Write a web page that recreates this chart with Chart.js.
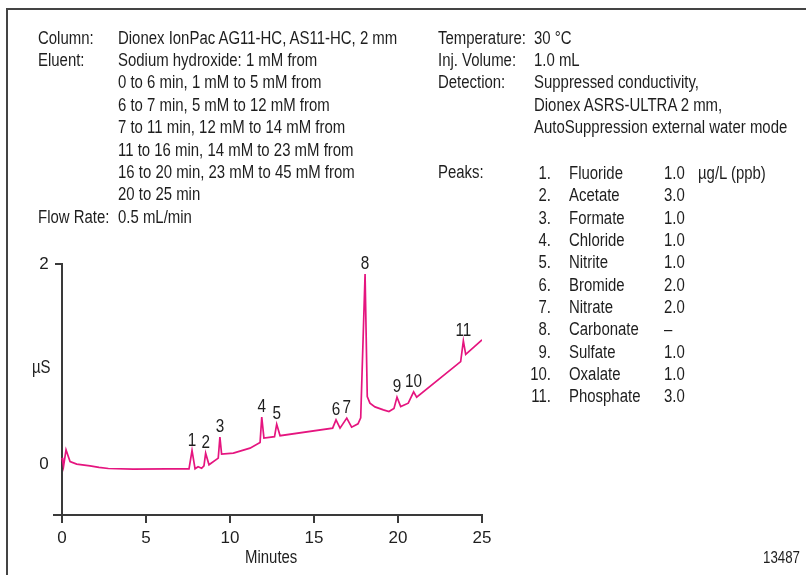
<!DOCTYPE html>
<html lang="en">
<head>
<meta charset="UTF-8">
<title>Anions chromatogram</title>
<script src="https://cdn.jsdelivr.net/npm/chart.js"></script>
<style>
    body {
        margin: 0;
        background: #fff;
        font-family: 'Liberation Sans', Arial, sans-serif;
        color: #1e1e1e;
    }
    #wrap { position: relative; width: 806px; height: 575px; overflow: hidden; }
    #frame {
        position: absolute; left: 6px; top: 8px; width: 900px; height: 700px;
        border-left: 2px solid #444; border-top: 2px solid #444;
    }
    #chartBox { position: absolute; left: 0; top: 0; width: 806px; height: 575px; }
    /* letra estrecha: Liberation Sans comprimida en horizontal */
    .txt {
        position: absolute; font-size: 18px; line-height: 22.35px; white-space: nowrap;
        transform: scaleX(0.83); transform-origin: 0 0;
    }
    .der { text-align: right; transform-origin: 100% 0; }
</style>
</head>
<body>
<div id="wrap">
    <div id="frame"></div>
    <div id="chartBox"><canvas id="grafica"></canvas></div>

    <!-- condiciones, bloque izquierdo -->
    <div class="txt" style="left:38px; top:26.8px;">Column:<br>Eluent:<br><br><br><br><br><br><br>Flow Rate:</div>
    <div class="txt" style="left:118px; top:26.8px;">Dionex IonPac AG11-HC, AS11-HC, 2 mm<br>Sodium hydroxide: 1 mM from<br>0 to 6 min, 1 mM to 5 mM from<br>6 to 7 min, 5 mM to 12 mM from<br>7 to 11 min, 12 mM to 14 mM from<br>11 to 16 min, 14 mM to 23 mM from<br>16 to 20 min, 23 mM to 45 mM from<br>20 to 25 min<br>0.5 mL/min</div>

    <!-- bloque derecho -->
    <div class="txt" style="left:438px; top:26.8px;">Temperature:<br>Inj. Volume:<br>Detection:<br><br><br><br>Peaks:</div>
    <div class="txt" style="left:534px; top:26.8px;">30 °C<br>1.0 mL<br>Suppressed conductivity,<br>Dionex ASRS-ULTRA 2 mm,<br>AutoSuppression external water mode</div>
    <div class="txt der" id="colNum" style="left:501px; width:50px; top:162px;"></div>
    <div class="txt" id="colName" style="left:569px; top:162px;"></div>
    <div class="txt" id="colConc" style="left:664px; top:162px;"></div>
    <div class="txt" style="left:698px; top:162px;">µg/L (ppb)</div>

    <div class="txt" style="left:32px; top:355.5px;">µS</div>
    <div class="txt" style="left:245px; top:545.8px;">Minutes</div>
    <div class="txt der" style="left:700px; width:100px; top:547px; font-size:16px;">13487</div>
</div>

<script>
    // trazado: tiempo (min) y señal (µS)
    const times  = [0.0, 0.04, 0.09, 0.24, 0.36, 0.48, 0.875, 1.67, 2.2, 2.76, 4.23, 6.25, 7.32, 7.56,
                    7.74, 7.92, 8.1, 8.31, 8.45, 8.55, 8.75, 9.3, 9.40, 9.5, 10.2, 11.19, 11.79,
                    11.89, 12.02, 12.65, 12.78, 12.98, 16.11, 16.31, 16.55, 16.95, 17.24, 17.62,
                    17.78, 18.04, 18.17, 18.33, 18.63, 19.13, 19.46, 19.76, 19.94, 20.16, 20.61,
                    20.93, 21.11, 23.73, 23.89, 24.03, 25.0];
    const signal = [0.07, 0.033, -0.017, 0.149, 0.09, 0.033, 0.007, -0.01, -0.026, -0.037, -0.043, -0.04, -0.04, -0.04,
                    0.142, -0.04, -0.02, -0.035, -0.01, 0.116, 0.0, 0.067, 0.276, 0.106, 0.116, 0.166, 0.222,
                    0.475, 0.266, 0.28, 0.405, 0.29, 0.365, 0.448, 0.365, 0.465, 0.375, 0.408,
                    0.468, 1.90, 0.68, 0.614, 0.577, 0.547, 0.53, 0.562, 0.674, 0.58, 0.614,
                    0.726, 0.674, 1.028, 1.234, 1.10, 1.245];

    const peakNumbers = ['1', '2', '3', '4', '5', '6', '7', '8', '9', '10', '11'];
    const peakTimes   = [7.74, 8.55, 9.40, 11.89, 12.78, 16.31, 16.95, 18.04, 19.94, 20.93, 23.89];
    const peakNames   = ['Fluoride', 'Acetate', 'Formate', 'Chloride', 'Nitrite', 'Bromide',
                         'Nitrate', 'Carbonate', 'Sulfate', 'Oxalate', 'Phosphate'];
    const peakConc    = ['1.0', '3.0', '1.0', '1.0', '1.0', '2.0', '2.0', '–', '1.0', '1.0', '3.0'];

    const xTickValues = [0, 5, 10, 15, 20, 25];
    const yTickValues = [0, 2];

    const FONT = "'Liberation Sans', Arial, sans-serif";
    const INK = '#3a3a3a';

    // tabla de picos
    document.getElementById('colNum').innerHTML = peakNumbers.map(n => n + '.').join('<br>');
    document.getElementById('colName').innerHTML = peakNames.join('<br>');
    document.getElementById('colConc').innerHTML = peakConc.join('<br>');

    // eje Y en x = 0 y numeros de los picos
    const ejesYEtiquetas = {
        id: 'ejesYEtiquetas',
        beforeDatasetsDraw(chart) {
            const { ctx, scales: { x, y } } = chart;
            const x0 = x.getPixelForValue(0);
            const yTop = y.getPixelForValue(yTickValues[yTickValues.length - 1]);
            ctx.save();
            ctx.strokeStyle = INK;
            ctx.lineWidth = 2;
            ctx.beginPath();
            ctx.moveTo(x0, yTop - 1);
            ctx.lineTo(x0, y.bottom);
            ctx.moveTo(x0 - 7, yTop);
            ctx.lineTo(x0, yTop);
            ctx.stroke();
            ctx.restore();
        },
        afterDatasetsDraw(chart) {
            const { ctx, scales: { x, y } } = chart;
            ctx.save();
            ctx.fillStyle = '#1e1e1e';
            ctx.font = '18px ' + FONT;
            ctx.textAlign = 'center';
            ctx.textBaseline = 'alphabetic';
            peakTimes.forEach((t, i) => {
                const k = times.indexOf(t);
                ctx.save();
                ctx.translate(x.getPixelForValue(t), y.getPixelForValue(signal[k]) - 5);
                ctx.scale(0.85, 1);
                ctx.fillText(peakNumbers[i], 0, 0);
                ctx.restore();
            });
            ctx.restore();
        }
    };

    new Chart(document.getElementById('grafica').getContext('2d'), {
        type: 'line',
        data: {
            datasets: [{
                data: times.map((t, i) => ({ x: t, y: signal[i] })),
                borderColor: '#e5157f',
                borderWidth: 1.7,
                pointRadius: 0,
                tension: 0,
                fill: false
            }]
        },
        options: {
            responsive: true,
            maintainAspectRatio: false,
            animation: false,
            layout: { padding: { left: 33.6, right: 324, top: 264, bottom: 0 } },
            plugins: { legend: { display: false }, tooltip: { enabled: false } },
            scales: {
                x: {
                    type: 'linear',
                    min: -0.5,
                    max: 25,
                    afterBuildTicks: s => { s.ticks = xTickValues.map(v => ({ value: v })); },
                    afterFit: s => { s.height = 60; },
                    grid: { display: true, drawOnChartArea: false, drawTicks: true, tickLength: 8, color: INK, lineWidth: 2 },
                    border: { display: true, color: INK, width: 2 },
                    ticks: { font: { family: FONT, size: 17 }, color: '#1e1e1e', padding: 5, maxRotation: 0, autoSkip: false }
                },
                y: {
                    type: 'linear',
                    min: -0.5,
                    max: 2,
                    afterBuildTicks: s => { s.ticks = yTickValues.map(v => ({ value: v })); },
                    afterFit: s => { s.width = 20; },
                    grid: { display: false, drawTicks: false },
                    border: { display: false },
                    ticks: { font: { family: FONT, size: 17 }, color: '#1e1e1e', padding: 5 }
                }
            }
        },
        plugins: [ejesYEtiquetas]
    });
</script>
</body>
</html>
